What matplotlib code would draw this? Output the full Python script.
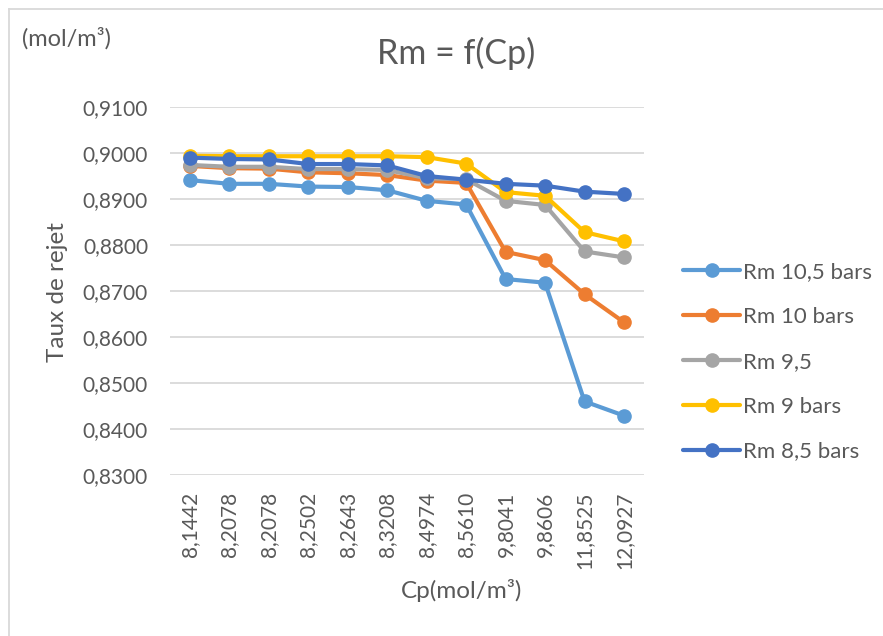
import matplotlib
matplotlib.use("Agg")
import matplotlib.pyplot as plt
from matplotlib.lines import Line2D

plt.rcParams['font.family'] = ['Lato', 'DejaVu Sans']

categories = ["8,1442", "8,2078", "8,2078", "8,2502", "8,2643", "8,3208",
              "8,4974", "8,5610", "9,8041", "9,8606", "11,8525", "12,0927"]

rm_10_5 = [0.8941, 0.8933, 0.8933, 0.8927, 0.8926, 0.8919, 0.8896, 0.8888, 0.8726, 0.8718, 0.8460, 0.8429]
rm_10 = [0.8972, 0.8967, 0.8966, 0.8958, 0.8956, 0.8952, 0.8940, 0.8935, 0.8785, 0.8767, 0.8693, 0.8632]
rm_9_5 = [0.8974, 0.8970, 0.8970, 0.8965, 0.8965, 0.8963, 0.8945, 0.8943, 0.8896, 0.8887, 0.8786, 0.8773]
rm_9 = [0.8994, 0.8993, 0.8993, 0.8993, 0.8993, 0.8993, 0.8991, 0.8977, 0.8915, 0.8907, 0.8828, 0.8808]
rm_8_5 = [0.8990, 0.8987, 0.8986, 0.8976, 0.8976, 0.8973, 0.8950, 0.8942, 0.8933, 0.8929, 0.8916, 0.8911]

series_names = ["Rm 10,5 bars", "Rm 10 bars", "Rm 9,5", "Rm 9 bars", "Rm 8,5 bars"]
series_values = [rm_10_5, rm_10, rm_9_5, rm_9, rm_8_5]
colors = ["#5B9BD5", "#ED7D31", "#A5A5A5", "#FFC000", "#4472C4"]

yticks = [0.83, 0.84, 0.85, 0.86, 0.87, 0.88, 0.89, 0.90, 0.91]
ytick_labels = ["0,8300", "0,8400", "0,8500", "0,8600", "0,8700", "0,8800", "0,8900", "0,9000", "0,9100"]

W, H = 883, 636
fig = plt.figure(figsize=(W / 100, H / 100), dpi=100)
ax_left, ax_right = 170.3, 643.7
ax_top, ax_bottom = 107, 475
ax = fig.add_axes([ax_left / W, 1 - ax_bottom / H, (ax_right - ax_left) / W, (ax_bottom - ax_top) / H])

text_color = "#595959"
x = list(range(len(categories)))
for name, vals, c in zip(series_names, series_values, colors):
    ax.plot(x, vals, color=c, lw=3.0, marker="o", markersize=9.5, label=name,
            solid_capstyle="round", solid_joinstyle="round", clip_on=False)

ax.set_xlim(-0.5, len(categories) - 0.5)
ax.set_ylim(0.83, 0.91)
ax.set_yticks(yticks)
ax.set_yticklabels(ytick_labels)
ax.set_xticks(x)
ax.set_xticklabels(categories, rotation=90, va="top", ha="center")
ax.tick_params(axis="both", length=0, labelsize=15, labelcolor=text_color)
ax.tick_params(axis="y", pad=16)
ax.tick_params(axis="x", pad=12)
for s in ax.spines.values():
    s.set_visible(False)
ax.grid(axis="y", color="#D9D9D9", lw=1.3)
ax.set_axisbelow(True)

fig.text(456 / W, 1 - 53 / H, "Rm = f(Cp)", ha="center", va="center", fontsize=24.5, color=text_color)
fig.text(462 / W, 1 - 590 / H, "Cp(mol/m³)", ha="center", va="center", fontsize=17.5, color=text_color)
fig.text(58 / W, 1 - 292 / H, "Taux de rejet", ha="center", va="center", rotation=90, fontsize=17.5, color=text_color)
fig.text(22 / W, 1 - 38.5 / H, "(mol/m³)", ha="left", va="center", fontsize=17, color=text_color)

leg = ax.legend(loc="upper left", bbox_to_anchor=(683 / W, 1 - 262 / H), bbox_transform=fig.transFigure,
                frameon=False, fontsize=16, labelspacing=1.12, handlelength=2.57, handletextpad=0.14,
                borderpad=0, borderaxespad=0)
for t in leg.get_texts():
    t.set_color(text_color)

fig.add_artist(Line2D([8.5 / W, 8.5 / W], [0, 1 - 8.5 / H], color="#D9D9D9", lw=1.3, transform=fig.transFigure))
fig.add_artist(Line2D([8.5 / W, 1], [1 - 8.5 / H, 1 - 8.5 / H], color="#D9D9D9", lw=1.3, transform=fig.transFigure))

fig.savefig("out.png", dpi=100, facecolor="white")
